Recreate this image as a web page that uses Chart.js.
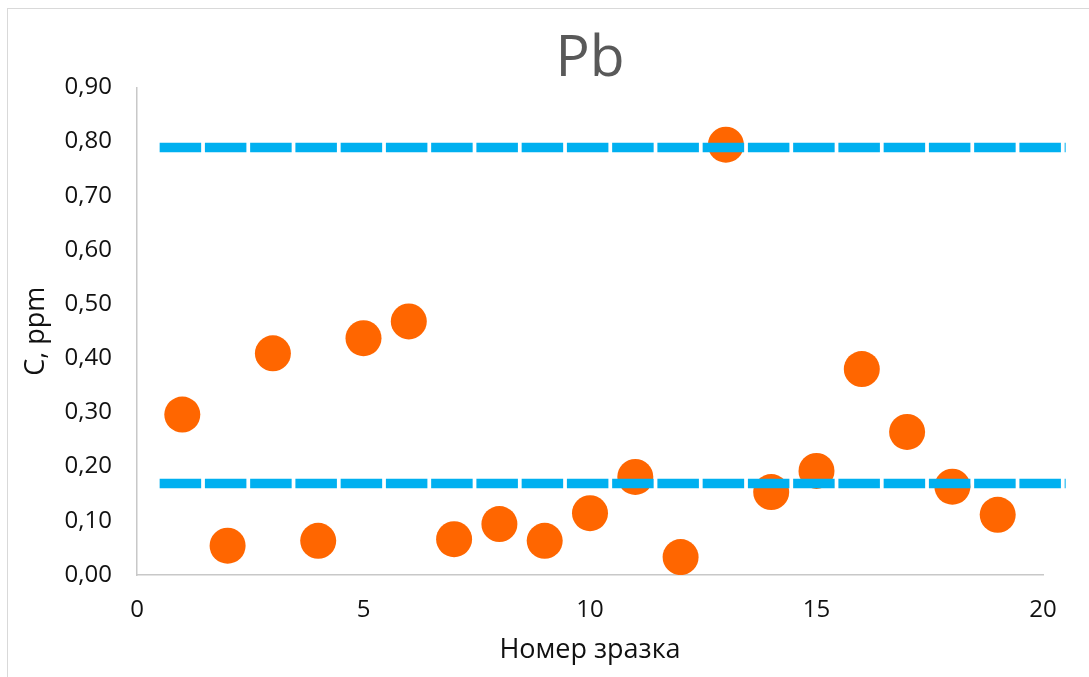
<!DOCTYPE html>
<html>
<head>
<meta charset="utf-8">
<script src="https://cdn.jsdelivr.net/npm/chart.js@4"></script>
<style>
  html, body { margin: 0; padding: 0; background: #fff; }
  #pbChart { display: block; }
</style>
</head>
<body>
<canvas id="pbChart" width="1089" height="677"></canvas>
<script>
// sample numbers and measured Pb concentrations
const sampleNo = [1, 2, 3, 4, 5, 6, 7, 8, 9, 10, 11, 12, 13, 14, 15, 16, 17, 18, 19];
const pbValues = [0.296, 0.054, 0.409, 0.063, 0.437, 0.468, 0.066, 0.094, 0.063, 0.114,
                  0.181, 0.033, 0.794, 0.153, 0.192, 0.380, 0.264, 0.163, 0.111];

// limit lines (start / end sample numbers and level)
const limitX = [0.5, 20.5];
const upperLimit = 0.789;
const lowerLimit = 0.169;

const xTicks = [0, 5, 10, 15, 20];
const yTicks = [0, 0.1, 0.2, 0.3, 0.4, 0.5, 0.6, 0.7, 0.8, 0.9];

const font = 'Open Sans';

const frame = {
  id: 'frame',
  beforeDraw(chart) {
    const c = chart.ctx;
    c.save();
    c.fillStyle = '#fff';
    c.fillRect(0, 0, chart.width, chart.height);
    c.strokeStyle = '#d9d9d9';
    c.lineWidth = 1;
    c.strokeRect(7.5, 8.5, chart.width + 20, chart.height + 20);
    c.restore();
  }
};

const limitLine = (level) => ({
  type: 'line',
  data: limitX.map(x => ({ x, y: level })),
  borderColor: '#00B0F0',
  borderWidth: 9.5,
  borderDash: [41.5, 3.75],
  borderCapStyle: 'butt',
  pointRadius: 0,
  fill: false,
  clip: false
});

new Chart(document.getElementById('pbChart'), {
  type: 'scatter',
  data: {
    datasets: [
      limitLine(upperLimit),
      limitLine(lowerLimit),
      {
        data: sampleNo.map((x, i) => ({ x, y: pbValues[i] })),
        backgroundColor: '#FF6600',
        borderWidth: 0,
        pointRadius: 18,
        pointHoverRadius: 18
      }
    ]
  },
  options: {
    responsive: false,
    animation: false,
    layout: { padding: { left: 0, right: 46, top: 0, bottom: 0 } },
    plugins: {
      legend: { display: false },
      tooltip: { enabled: false },
      title: {
        display: true,
        text: 'Pb',
        fullSize: false,
        color: '#595959',
        font: { family: font, size: 57, weight: 'normal', lineHeight: 0.9 },
        padding: { top: 34, bottom: 2 }
      }
    },
    scales: {
      x: {
        type: 'linear',
        min: 0,
        max: 20,
        afterFit: s => { s.height = 102; },
        afterBuildTicks: s => { s.ticks = xTicks.map(v => ({ value: v })); },
        grid: { display: false, drawTicks: false },
        border: { display: true, color: '#c8c8c8', width: 1.5 },
        ticks: {
          padding: 21,
          color: '#111',
          font: { family: font, size: 24 },
          maxRotation: 0
        },
        title: {
          display: true,
          text: 'Номер зразка',
          color: '#111',
          font: { family: font, size: 27 },
          padding: { top: 0, bottom: 10 }
        }
      },
      y: {
        min: 0,
        max: 0.9,
        afterFit: s => { s.width = 137; },
        afterBuildTicks: s => { s.ticks = yTicks.map(v => ({ value: v })); },
        grid: { display: false, drawTicks: false },
        border: { display: true, color: '#c8c8c8', width: 1.5 },
        ticks: {
          padding: 25,
          color: '#111',
          font: { family: font, size: 24 },
          callback: v => v.toFixed(2).replace('.', ',')
        },
        title: {
          display: true,
          text: 'C, ppm',
          color: '#111',
          font: { family: font, size: 27 },
          padding: { top: 20, bottom: 0 }
        }
      }
    }
  },
  plugins: [frame]
});
</script>
</body>
</html>
